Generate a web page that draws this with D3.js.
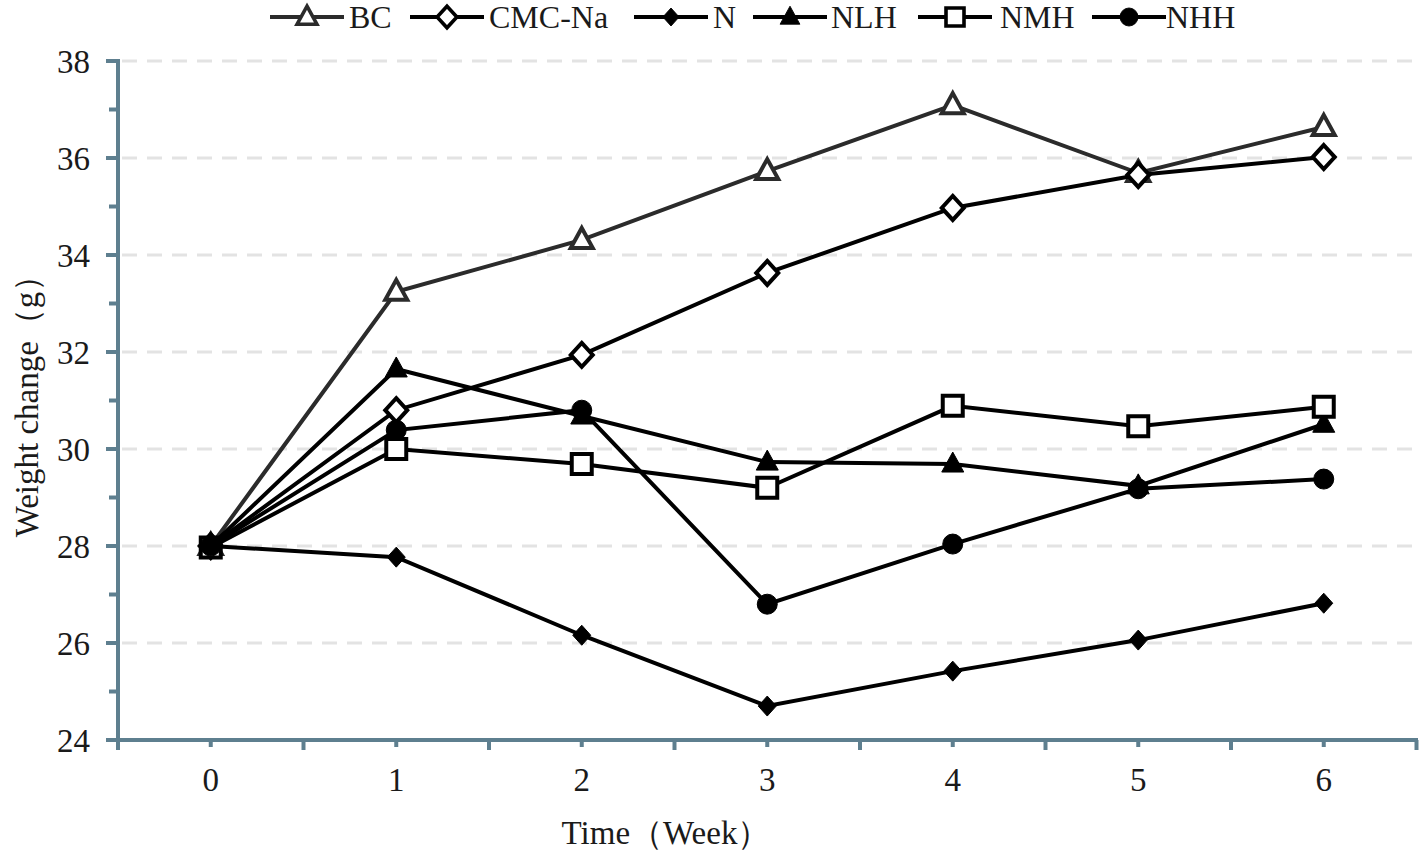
<!DOCTYPE html>
<html>
<head>
<meta charset="utf-8">
<script src="https://cdn.jsdelivr.net/npm/d3@7"></script>
<style>
  body { margin:0; background:#fff; }
  svg { display:block; }
  text { font-family:"Liberation Serif", "Times New Roman", serif; fill:#1a1a1a; }
</style>
</head>
<body>
<svg id="chart" width="1421" height="850"></svg>
<script>
// data
const weeks = ["0", "1", "2", "3", "4", "5", "6"];
const seriesNames = ["BC", "CMC-Na", "N", "NLH", "NMH", "NHH"];
const bcValues    = [28.0, 33.24, 34.31, 35.73, 37.09, 35.69, 36.64];
const cmcValues   = [28.0, 30.80, 31.94, 33.63, 34.97, 35.65, 36.02];
const nValues     = [28.0, 27.77, 26.16, 24.70, 25.42, 26.06, 26.82];
const nlhValues   = [28.0, 31.65, 30.68, 29.73, 29.69, 29.24, 30.51];
const nmhValues   = [27.97, 30.0, 29.69, 29.20, 30.89, 30.47, 30.87];
const nhhValues   = [28.0, 30.39, 30.80, 26.80, 28.04, 29.18, 29.38];
const yTicks = [24, 26, 28, 30, 32, 34, 36, 38];

const series = [
    { name:"BC",     values:bcValues,  symbol:"triangle", fill:"#fff",  stroke:"#2b2b2b" },
    { name:"CMC-Na", values:cmcValues, symbol:"diamond",  fill:"#fff",  stroke:"#000" },
    { name:"N",      values:nValues,   symbol:"diamond",  fill:"#000",  stroke:"#000", small:true },
    { name:"NLH",    values:nlhValues, symbol:"triangle", fill:"#000",  stroke:"#000" },
    { name:"NMH",    values:nmhValues, symbol:"square",   fill:"#fff",  stroke:"#000" },
    { name:"NHH",    values:nhhValues, symbol:"circle",   fill:"#000",  stroke:"#000" }
];

const AXIS_COLOUR = "#5e7f8f";
const margin = { left:118, right:5, top:61, bottom:110 };

const svg = d3.select("#chart");

const x = d3.scaleBand().domain(weeks).range([margin.left, 1416.5]).paddingInner(0).paddingOuter(0);
const y = d3.scaleLinear().domain([24, 38]).range([740, 61]);
const cx = d => x(d) + x.bandwidth() / 2;

// grid
svg.append("g").attr("class", "grid")
    .selectAll("line").data(yTicks.filter(t => t > 24)).enter()
    .append("line")
        .attr("x1", margin.left + 4).attr("x2", 1413)
        .attr("y1", d => y(d)).attr("y2", d => y(d))
        .attr("stroke", "#e3e3e3")
        .attr("stroke-width", 3)
        .attr("stroke-dasharray", "15 10");

// y axis
const yAxisG = svg.append("g").attr("class", "y-axis");
yAxisG.append("line")
    .attr("x1", margin.left).attr("x2", margin.left)
    .attr("y1", 59).attr("y2", 750)
    .attr("stroke", AXIS_COLOUR).attr("stroke-width", 4);
yAxisG.selectAll("line.major").data(yTicks).enter()
    .append("line").attr("class", "major")
        .attr("x1", 106).attr("x2", margin.left)
        .attr("y1", d => y(d)).attr("y2", d => y(d))
        .attr("stroke", AXIS_COLOUR).attr("stroke-width", 4);
yAxisG.selectAll("line.minor").data(yTicks.slice(0, -1).map(t => t + 1)).enter()
    .append("line").attr("class", "minor")
        .attr("x1", 109).attr("x2", margin.left)
        .attr("y1", d => y(d)).attr("y2", d => y(d))
        .attr("stroke", AXIS_COLOUR).attr("stroke-width", 4);
yAxisG.selectAll("text").data(yTicks).enter()
    .append("text")
        .attr("x", 90).attr("y", d => y(d))
        .attr("dy", "0.35em")
        .attr("text-anchor", "end")
        .attr("font-size", 33)
        .text(d => d);

// x axis
const xAxisG = svg.append("g").attr("class", "x-axis");
xAxisG.append("line")
    .attr("x1", margin.left - 2).attr("x2", 1418)
    .attr("y1", 740).attr("y2", 740)
    .attr("stroke", AXIS_COLOUR).attr("stroke-width", 4);
const boundaries = weeks.map(d => x(d)).concat([x(weeks[weeks.length - 1]) + x.bandwidth()]);
xAxisG.selectAll("line.major").data(boundaries.slice(1)).enter()
    .append("line").attr("class", "major")
        .attr("x1", d => d).attr("x2", d => d)
        .attr("y1", 740).attr("y2", 750)
        .attr("stroke", AXIS_COLOUR).attr("stroke-width", 4);
xAxisG.selectAll("line.minor").data(weeks).enter()
    .append("line").attr("class", "minor")
        .attr("x1", d => cx(d)).attr("x2", d => cx(d))
        .attr("y1", 740).attr("y2", 747)
        .attr("stroke", AXIS_COLOUR).attr("stroke-width", 4);
xAxisG.selectAll("text").data(weeks).enter()
    .append("text")
        .attr("x", d => cx(d)).attr("y", 791)
        .attr("text-anchor", "middle")
        .attr("font-size", 33)
        .text(d => d);

// axis titles
svg.append("text")
    .attr("x", 666).attr("y", 844)
    .attr("text-anchor", "middle")
    .attr("font-size", 33)
    .text("Time（Week）");
svg.append("text")
    .attr("transform", "translate(38,398) rotate(-90)")
    .attr("text-anchor", "middle")
    .attr("font-size", 33)
    .text("Weight change（g）");

// marker paths
function markerPath(s) {
    if (s.symbol === "triangle") return "M0,-12L11,8L-11,8Z";
    if (s.symbol === "diamond") return s.small ? "M0,-10L9,0L0,10L-9,0Z" : "M0,-12L11,0L0,12L-11,0Z";
    if (s.symbol === "square") return "M-10,-10H10V10H-10Z";
    return d3.symbol().type(d3.symbolCircle).size(Math.PI * 100)();
}

const line = d3.line().x((d, i) => cx(weeks[i])).y(d => y(d));

const seriesG = svg.append("g").attr("class", "series");
series.forEach(s => {
    const g = seriesG.append("g").attr("class", "serie");
    g.append("path")
        .attr("d", line(s.values))
        .attr("fill", "none")
        .attr("stroke", s.stroke)
        .attr("stroke-width", 4);
    g.selectAll("path.marker").data(s.values).enter()
        .append("path").attr("class", "marker")
            .attr("transform", (d, i) => `translate(${cx(weeks[i])},${y(d)})`)
            .attr("d", markerPath(s))
            .attr("fill", s.fill)
            .attr("stroke", s.stroke)
            .attr("stroke-width", s.fill === "#fff" ? 4 : 1)
            .attr("stroke-linejoin", "miter");
});

// legend
const legendItems = [
    { lineX:270, textX:349 },
    { lineX:410, textX:489 },
    { lineX:634, textX:713 },
    { lineX:753, textX:831 },
    { lineX:918, textX:1000 },
    { lineX:1092, textX:1166 }
];
const legendY = 17;
const legendG = svg.append("g").attr("class", "legend");
series.forEach((s, i) => {
    const pos = legendItems[i];
    const g = legendG.append("g");
    g.append("line")
        .attr("x1", pos.lineX).attr("x2", pos.lineX + 74)
        .attr("y1", legendY).attr("y2", legendY)
        .attr("stroke", s.stroke).attr("stroke-width", 4);
    g.append("path")
        .attr("transform", `translate(${pos.lineX + 37},${legendY}) scale(0.9)`)
        .attr("d", markerPath(s))
        .attr("fill", s.fill)
        .attr("stroke", s.stroke)
        .attr("stroke-width", s.fill === "#fff" ? 4 : 1);
    g.append("text")
        .attr("x", pos.textX).attr("y", legendY)
        .attr("dy", "0.35em")
        .attr("font-size", 32)
        .text(s.name);
});
</script>
</body>
</html>
